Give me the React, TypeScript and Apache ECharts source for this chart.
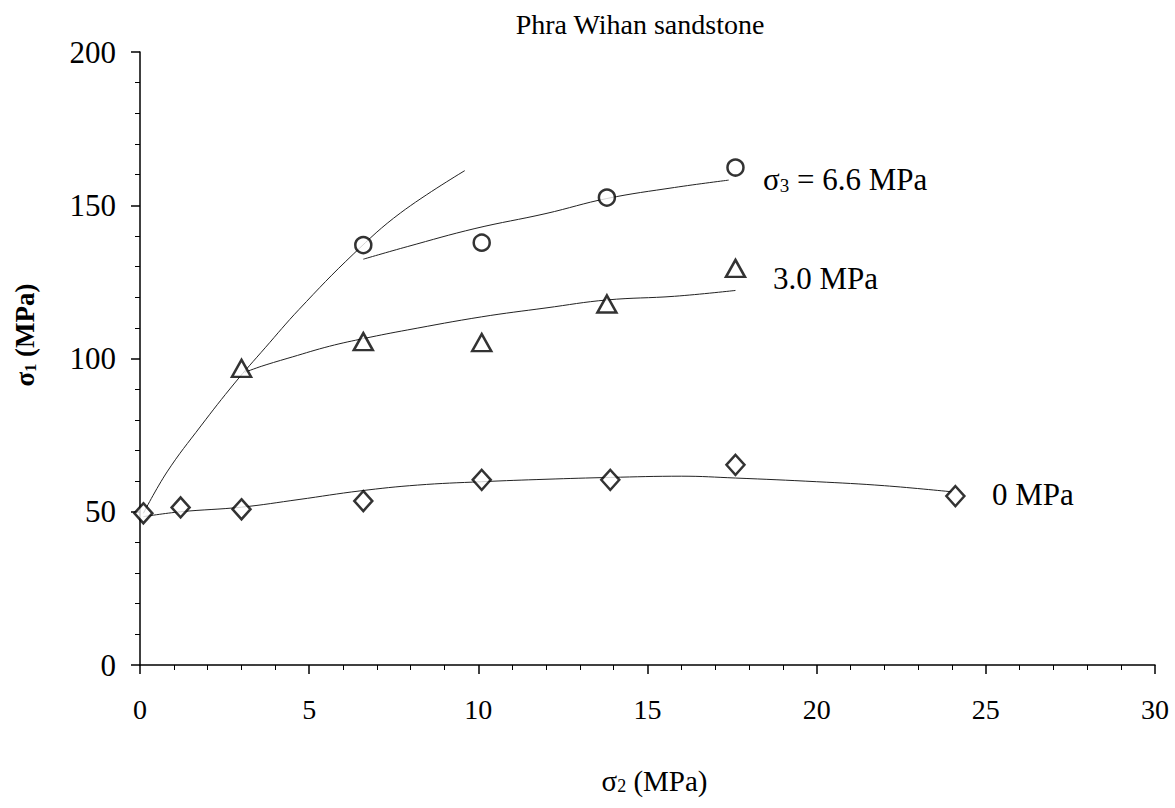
import React, { useEffect, useRef } from "react";
import * as echarts from "echarts";

// ---- data ----
const titleText = "Phra Wihan sandstone";

// measured points, sigma3 = 0 MPa (diamonds)
const s0X = [0.1, 1.2, 3.0, 6.6, 10.1, 13.9, 17.6, 24.1];
const s0Y = [49.5, 51.4, 50.8, 53.5, 60.4, 60.4, 65.3, 55.1];
// sigma3 = 3.0 MPa (triangles)
const s3X = [3.0, 6.6, 10.1, 13.8, 17.6];
const s3Y = [96.8, 105.5, 105.2, 117.8, 129.4];
// sigma3 = 6.6 MPa (circles)
const s66X = [6.6, 10.1, 13.8, 17.6];
const s66Y = [137.0, 137.8, 152.5, 162.3];

// fitted curves
const fit0X = [0.1, 1.2, 3.0, 4.7, 6.5, 8.2, 10.1, 12.0, 13.9, 16.0, 17.6, 20.0, 22.0, 24.0];
const fit0Y = [48.4, 50.0, 51.5, 54.0, 56.8, 58.7, 59.8, 60.6, 61.2, 61.6, 61.0, 59.8, 58.5, 56.5];
const fit3X = [3.1, 3.6, 4.5, 5.6, 6.65, 7.9, 10.1, 12.0, 13.8, 15.8, 17.6];
const fit3Y = [95.5, 97.5, 100.5, 104.0, 106.6, 109.3, 113.6, 116.5, 119.1, 120.3, 122.2];
const fit66X = [6.6, 7.9, 9.9, 12.0, 13.8, 15.8, 17.4];
const fit66Y = [132.4, 136.5, 142.4, 147.3, 152.2, 155.8, 158.2];
const envX = [0.1, 0.8, 1.8, 2.8, 3.7, 4.7, 6.3, 7.7, 9.6];
const envY = [49.5, 63.0, 78.0, 92.0, 103.5, 116.0, 134.0, 147.5, 161.3];

const xMin = 0, xMax = 30, xStep = 5;
const yMin = 0, yMax = 200, yStep = 50;

const FONT = "'Liberation Serif', 'Times New Roman', serif";

const pairs = (xs: number[], ys: number[]) => xs.map((x, i) => [x, ys[i]]);

export default function App() {
  const ref = useRef<HTMLDivElement>(null);
  useEffect(() => {
    if (!ref.current) return;
    const chart = echarts.init(ref.current, undefined, { renderer: "svg" });
    const curve = (name: string, xs: number[], ys: number[]) => ({
      name,
      type: "line",
      data: pairs(xs, ys),
      smooth: 0.4,
      showSymbol: false,
      symbol: "none",
      lineStyle: { color: "#222", width: 1 },
      z: 2,
      silent: true,
    });
    const marks = (name: string, xs: number[], ys: number[], symbol: string, size: any) => ({
      name,
      type: "scatter",
      data: pairs(xs, ys),
      symbol,
      symbolSize: size,
      itemStyle: { color: "#fff", borderColor: "#000", borderWidth: 2.5 },
      z: 5,
    });
    chart.setOption({
      animation: false,
      backgroundColor: "#fff",
      title: {
        text: titleText,
        left: 635,
        top: 5,
        textAlign: "center",
        textStyle: { fontFamily: FONT, fontSize: 28, fontWeight: "normal", color: "#000" },
      },
      grid: { left: 140, right: 20, top: 52, bottom: 143, containLabel: false },
      xAxis: {
        type: "value",
        min: xMin,
        max: xMax,
        interval: xStep,
        splitLine: { show: false },
        axisLine: { onZero: false, lineStyle: { color: "#000", width: 1.5 } },
        axisTick: { show: true, length: 9, lineStyle: { color: "#000", width: 1.5 } },
        minorTick: { show: true, splitNumber: 5, length: 5, lineStyle: { color: "#000", width: 1 } },
        axisLabel: { fontFamily: FONT, fontSize: 28, color: "#000", margin: 30 },
        name: "{a|σ}{b|2}{a| (MPa)}",
        nameLocation: "middle",
        nameGap: 98,
        nameTextStyle: {
          fontFamily: FONT,
          color: "#000",
          padding: [0, 0, 0, 14],
          rich: {
            a: { fontFamily: FONT, fontSize: 29, color: "#000", verticalAlign: "bottom", lineHeight: 32 },
            b: { fontFamily: FONT, fontSize: 18, color: "#000", verticalAlign: "bottom", lineHeight: 26 },
          },
        },
      },
      yAxis: {
        type: "value",
        min: yMin,
        max: yMax,
        interval: yStep,
        splitLine: { show: false },
        axisLine: { onZero: false, lineStyle: { color: "#000", width: 1.5 } },
        axisTick: { show: true, length: 9, lineStyle: { color: "#000", width: 1.5 } },
        minorTick: { show: true, splitNumber: 5, length: 5, lineStyle: { color: "#000", width: 1 } },
        axisLabel: { fontFamily: FONT, fontSize: 31, color: "#000", margin: 24 },
      },
      graphic: [
        {
          type: "text",
          x: 22,
          y: 335,
          rotation: Math.PI / 2,
          style: {
            text: "{a|σ}{b|1}{a| (MPa)}",
            align: "center",
            verticalAlign: "middle",
            rich: {
              a: { fontFamily: FONT, fontSize: 27, fontWeight: "bold", fill: "#000", verticalAlign: "bottom", lineHeight: 32 },
              b: { fontFamily: FONT, fontSize: 16, fontWeight: "bold", fill: "#000", verticalAlign: "bottom", lineHeight: 26 },
            },
          },
        },
        {
          type: "text",
          x: 763,
          y: 178,
          style: {
            text: "{a|σ}{b|3}{a| = 6.6 MPa}",
            verticalAlign: "middle",
            align: "left",
            rich: {
              a: { fontFamily: FONT, fontSize: 31, fill: "#000", verticalAlign: "bottom", lineHeight: 34 },
              b: { fontFamily: FONT, fontSize: 19, fill: "#000", verticalAlign: "bottom", lineHeight: 28 },
            },
          },
        },
        {
          type: "text",
          x: 773,
          y: 278,
          style: { text: "3.0 MPa", font: `31px ${FONT}`, fill: "#000", verticalAlign: "middle", align: "left" },
        },
        {
          type: "text",
          x: 992,
          y: 494,
          style: { text: "0 MPa", font: `31px ${FONT}`, fill: "#000", verticalAlign: "middle", align: "left" },
        },
      ],
      series: [
        curve("envelope", envX, envY),
        curve("fit 0 MPa", fit0X, fit0Y),
        curve("fit 3.0 MPa", fit3X, fit3Y),
        curve("fit 6.6 MPa", fit66X, fit66Y),
        marks("0 MPa", s0X, s0Y, "diamond", [18, 20]),
        marks("3.0 MPa", s3X, s3Y, "triangle", [19, 17]),
        marks("6.6 MPa", s66X, s66Y, "circle", 16),
      ],
    });
    return () => chart.dispose();
  }, []);
  return <div ref={ref} style={{ width: 1175, height: 808, position: "absolute", left: 0, top: 0 }} />;
}
